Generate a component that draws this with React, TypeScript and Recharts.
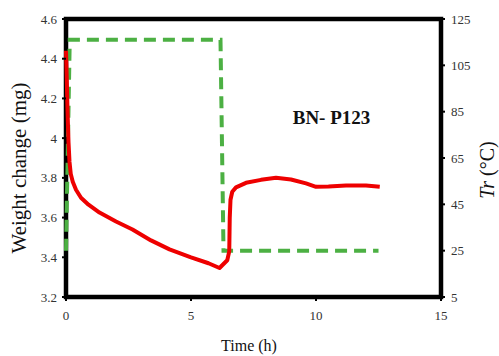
import React from 'react';
import {
  ComposedChart,
  Line,
  XAxis,
  YAxis,
  ReferenceArea,
  ReferenceDot,
} from 'recharts';

// weight change (mg) vs time (h)
const weightData = [
  { t: 0, w: 4.44 },
  { t: 0.03, w: 4.3 },
  { t: 0.06, w: 4.14 },
  { t: 0.1, w: 3.98 },
  { t: 0.14, w: 3.88 },
  { t: 0.19, w: 3.82 },
  { t: 0.27, w: 3.78 },
  { t: 0.4, w: 3.74 },
  { t: 0.6, w: 3.7 },
  { t: 0.9, w: 3.665 },
  { t: 1.34, w: 3.625 },
  { t: 2.0, w: 3.58 },
  { t: 2.66, w: 3.54 },
  { t: 3.4, w: 3.485 },
  { t: 4.14, w: 3.44 },
  { t: 5.0, w: 3.4 },
  { t: 5.7, w: 3.37 },
  { t: 6.14, w: 3.346 },
  { t: 6.45, w: 3.385 },
  { t: 6.53, w: 3.43 },
  { t: 6.55, w: 3.6 },
  { t: 6.58, w: 3.69 },
  { t: 6.65, w: 3.73 },
  { t: 6.8, w: 3.752 },
  { t: 7.2, w: 3.775 },
  { t: 7.8, w: 3.79 },
  { t: 8.4, w: 3.8 },
  { t: 9.0, w: 3.792 },
  { t: 9.6, w: 3.772 },
  { t: 10.0, w: 3.755 },
  { t: 10.5, w: 3.757 },
  { t: 11.2, w: 3.762 },
  { t: 12.0, w: 3.762 },
  { t: 12.55, w: 3.755 },
];

// reactor temperature Tr (°C)
const tempData = [
  { t: 0, tr: 25 },
  { t: 0.15, tr: 116 },
  { t: 6.18, tr: 116 },
  { t: 6.3, tr: 25 },
  { t: 12.5, tr: 25 },
];

const xTicks = [0, 5, 10, 15];
const leftTicks = [3.2, 3.4, 3.6, 3.8, 4, 4.2, 4.4, 4.6];
const rightTicks = [5, 25, 45, 65, 85, 105, 125];

const FONT = '"Liberation Serif", "Times New Roman", serif';

const renderTick = (side: string) => (props: any) => {
  const { x, y, payload } = props;
  let dx = 0;
  let dy = 0;
  let anchor = 'middle';
  if (side === 'x') dy = 12;
  if (side === 'l') { dx = -3; anchor = 'end'; }
  if (side === 'r') { dx = 4; anchor = 'start'; }
  return (
    <text x={x + dx} y={y + dy} textAnchor={anchor} dominantBaseline="central"
      fontSize={13} fontFamily={FONT} fill="#333">
      {String(+Number(payload.value).toFixed(1))}
    </text>
  );
};

const LeftTitle = () => (
  <text x={19} y={168} transform="rotate(-90 19 168)" textAnchor="middle" dominantBaseline="central"
    fontSize={21} fontFamily={FONT} fill="#111">
    Weight change (mg)
  </text>
);

const RightTitle = () => (
  <text x={487} y={170} transform="rotate(-90 487 170)" textAnchor="middle" dominantBaseline="central"
    fontSize={20} fontFamily={FONT} fill="#111">
    <tspan fontStyle="italic">Tr</tspan>
    <tspan> (°C)</tspan>
  </text>
);

const BottomTitle = () => (
  <text x={249} y={345} textAnchor="middle" dominantBaseline="central"
    fontSize={16} fontFamily={FONT} fill="#111">
    Time (h)
  </text>
);

const App = () => {
  return (
    <div>
      <style>{`body{margin:0}`}</style>
      <ComposedChart width={499} height={356} margin={{ top: 19, right: 0, bottom: 0, left: 0 }}>
        <XAxis
          type="number"
          dataKey="t"
          domain={[0, 15]}
          ticks={xTicks}
          axisLine={false}
          tickLine={{ stroke: '#000', strokeWidth: 2 }}
          tickSize={4}
          tick={renderTick('x')}
          height={59}
          label={<BottomTitle />}
        />
        <YAxis
          yAxisId="left"
          type="number"
          domain={[3.2, 4.6]}
          ticks={leftTicks}
          axisLine={false}
          tickLine={{ stroke: '#000', strokeWidth: 2 }}
          tickSize={4}
          tick={renderTick('l')}
          width={66}
          label={<LeftTitle />}
        />
        <YAxis
          yAxisId="right"
          orientation="right"
          type="number"
          domain={[5, 125]}
          ticks={rightTicks}
          axisLine={false}
          tickLine={{ stroke: '#000', strokeWidth: 2 }}
          tickSize={4}
          tick={renderTick('r')}
          width={58}
          label={<RightTitle />}
        />
        <Line
          yAxisId="right"
          data={tempData}
          dataKey="tr"
          type="linear"
          stroke="#4cb043"
          strokeWidth={4}
          strokeDasharray="12 7"
          dot={false}
          isAnimationActive={false}
        />
        <Line
          yAxisId="left"
          data={weightData}
          dataKey="w"
          type="linear"
          stroke="#ee0000"
          strokeWidth={4}
          strokeLinejoin="round"
          dot={false}
          isAnimationActive={false}
        />
        <ReferenceArea
          yAxisId="left"
          x1={0}
          x2={15}
          y1={3.2}
          y2={4.6}
          fill="none"
          stroke="#000"
          strokeWidth={4.5}
          ifOverflow="visible"
        />
        <ReferenceDot
          yAxisId="left"
          x={10.62}
          y={4.106}
          r={0}
          fill="none"
          stroke="none"
          label={{ value: 'BN- P123', position: 'center', style: { fontSize: 19, fontWeight: 'bold', fontFamily: FONT, fill: '#111' } }}
        />
      </ComposedChart>
    </div>
  );
};

export default App;
